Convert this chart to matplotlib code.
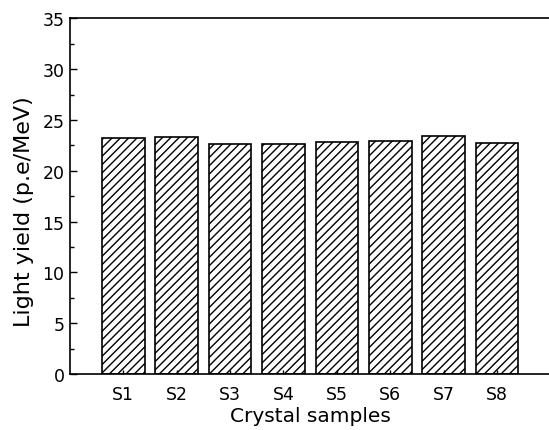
import numpy as np
import matplotlib.pyplot as plt

plt.rcParams['font.family'] = ['DejaVu Sans']
plt.rcParams['hatch.linewidth'] = 1.0

samples = ['S1', 'S2', 'S3', 'S4', 'S5', 'S6', 'S7', 'S8']
light_yield = [23.2, 23.35, 22.65, 22.65, 22.8, 22.95, 23.4, 22.75]

fig = plt.figure(figsize=(5.49, 4.31), dpi=100)
ax = fig.add_axes([0.1275, 0.130, 0.875, 0.825])

x = np.arange(1, len(samples) + 1)
ax.bar(x, light_yield, width=0.8, color='white', edgecolor='black',
       linewidth=1.2, hatch='////')

ax.set_xlim(0, 9)
ax.set_ylim(0, 35)
ax.set_xticks(x)
ax.set_xticklabels(samples)
ax.set_yticks(np.arange(0, 36, 5))
ax.set_yticks(np.arange(0, 35, 2.5), minor=True)

ax.tick_params(axis='both', which='major', direction='in', labelsize=12.5, pad=4)
ax.tick_params(axis='y', which='major', length=5, width=1)
ax.tick_params(axis='y', which='minor', direction='in', length=3, width=1)
ax.tick_params(axis='x', which='major', length=3, width=1, pad=8)
ax.tick_params(axis='x', which='minor', bottom=False)

for s in ax.spines.values():
    s.set_linewidth(1.2)

ax.set_xlabel('Crystal samples', fontsize=14.5, labelpad=2)
ax.set_ylabel('Light yield (p.e/MeV)', fontsize=16, labelpad=2)
ax.yaxis.set_label_coords(-0.075, 0.46)

fig.savefig('out.png', dpi=100)
